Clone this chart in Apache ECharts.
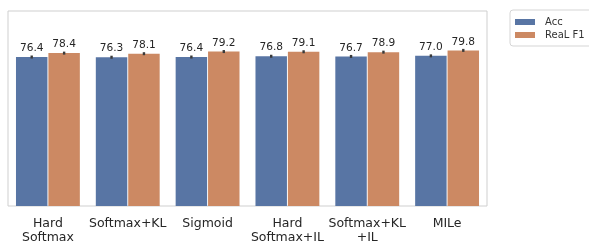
<!DOCTYPE html>
<html>
<head>
<meta charset="utf-8">
<script src="https://cdn.jsdelivr.net/npm/echarts@6/dist/echarts.min.js"></script>
<style>
  html, body { margin: 0; padding: 0; background: #fff; }
  #chart { width: 589px; height: 245px; }
</style>
</head>
<body>
<div id="chart"></div>
<script>
const categories = ['Hard\nSoftmax', 'Softmax+KL', 'Sigmoid', 'Hard\nSoftmax+IL', 'Softmax+KL\n+IL', 'MILe'];
const accValues = [76.4, 76.3, 76.4, 76.8, 76.7, 77.0];
const realF1Values = [78.4, 78.1, 79.2, 79.1, 78.9, 79.8];
const seriesNames = ['Acc', 'ReaL F1'];

const font = 'DejaVu Sans';
const colors = ['#5875a4', '#cc8963'];
const barCategoryGap = 0.2;
const barGap = 0.03;

const chart = echarts.init(document.getElementById('chart'));

// small error-bar tick on top of each bar
const errTick = (idx) => (params, api) => {
  const p = api.coord([api.value(0), api.value(1)]);
  const band = api.size([1, 0])[0];
  const w = band * (1 - barCategoryGap) / (2 + barGap);
  const off = (w / 2 + w * barGap / 2) * (idx === 0 ? -1 : 1);
  return {
    type: 'rect',
    shape: { x: p[0] + off - 1.2, y: p[1] - 1.5, width: 2.4, height: 3 },
    style: { fill: '#3a3a3a' }
  };
};

const option = {
  animation: false,
  grid: { left: 8, right: 102, top: 11, bottom: 37, show: true, borderColor: '#cfcfcf', borderWidth: 1, backgroundColor: '#fff' },
  legend: {
    data: seriesNames,
    orient: 'vertical',
    left: 510, top: 10,
    itemWidth: 20, itemHeight: 6, itemGap: 3,
    padding: [7, 20, 6, 5],
    borderColor: '#d5d5d5', borderWidth: 1, borderRadius: 3,
    textStyle: { fontFamily: font, fontSize: 10, color: '#333', padding: [0, 0, 0, 5] },
    icon: 'rect'
  },
  xAxis: {
    type: 'category',
    data: categories,
    axisLine: { show: false },
    axisTick: { show: false },
    axisLabel: { fontFamily: font, fontSize: 12.5, color: '#262626', margin: 11, lineHeight: 14, interval: 0 }
  },
  yAxis: {
    type: 'value', min: 0, max: 100,
    show: false, splitLine: { show: false }
  },
  series: [
    {
      name: seriesNames[0], type: 'bar', data: accValues,
      barCategoryGap: (barCategoryGap * 100) + '%', barGap: (barGap * 100) + '%',
      itemStyle: { color: colors[0] },
      label: { show: true, position: 'top', distance: 3, formatter: (p) => p.value.toFixed(1), fontFamily: font, fontSize: 10.6, color: '#262626' }
    },
    {
      name: seriesNames[1], type: 'bar', data: realF1Values,
      itemStyle: { color: colors[1] },
      label: { show: true, position: 'top', distance: 3, formatter: (p) => p.value.toFixed(1), fontFamily: font, fontSize: 10.6, color: '#262626' }
    },
    { type: 'custom', renderItem: errTick(0), data: accValues.map((v, i) => [i, v]), z: 5 },
    { type: 'custom', renderItem: errTick(1), data: realF1Values.map((v, i) => [i, v]), z: 5 }
  ]
};

chart.setOption(option);
</script>
</body>
</html>
